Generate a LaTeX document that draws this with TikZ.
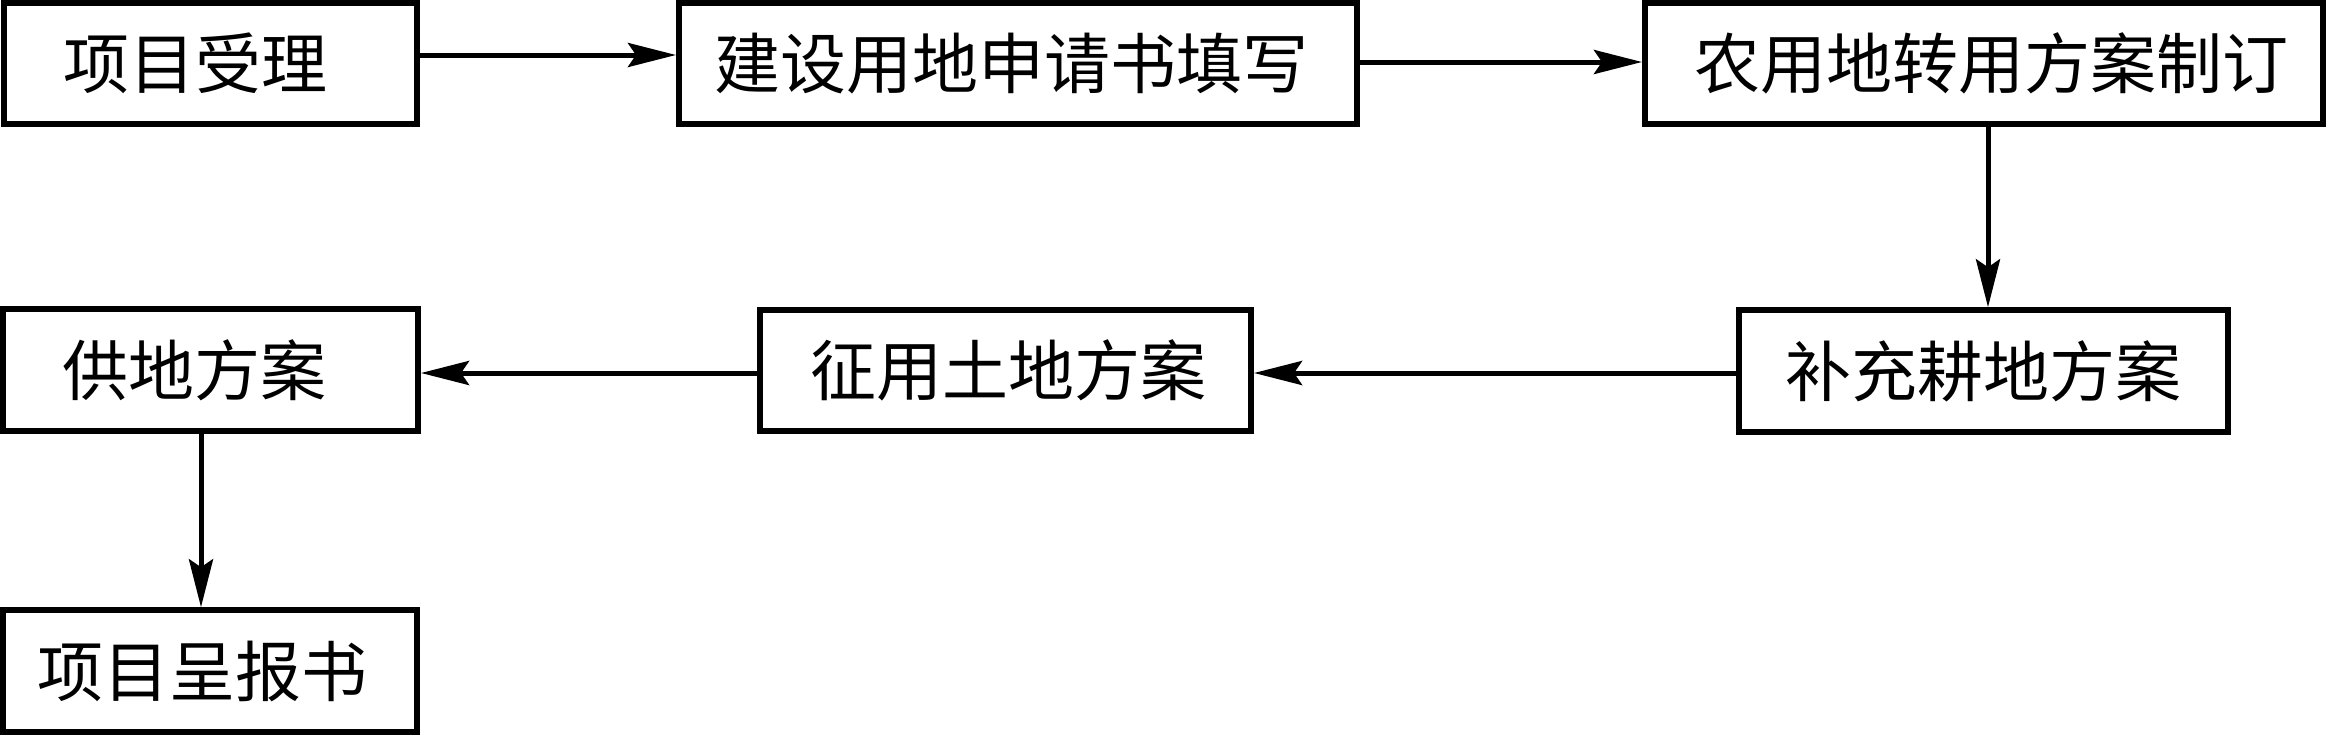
\documentclass[tikz,border=0pt]{standalone}
\usepackage{fontspec}
\newfontfamily\cjk{Noto Sans CJK SC}
\usetikzlibrary{arrows.meta}
\begin{document}
\begin{tikzpicture}[x=1pt,y=-1pt,
  box/.style={draw, line width=6pt, rectangle, inner sep=0pt, minimum height=121.5pt,
    font=\cjk\fontsize{66pt}{70pt}\selectfont},
  arr/.style={line width=5pt, -{Stealth[length=48pt,width=24pt,inset=8pt]}}]
\fill[white] (0,0) rectangle (2327,736);
\useasboundingbox (0,0) rectangle (2327,736);
% rows and columns of connectors
\coordinate (r1a) at (0,55);
\coordinate (r1b) at (0,62);
\coordinate (r2) at (0,373);
\coordinate (c3) at (1988,0);
\coordinate (c6) at (201,0);
% boxes
\node[box, minimum width=413pt] (b1) at (210.5,63.25) {\hspace*{-30pt}项目受理};
\node[box, minimum width=678pt] (b2) at (1018,63.25) {\hspace*{-14pt}建设用地申请书填写};
\node[box, minimum width=678pt] (b3) at (1984,63.5) {\hspace*{14pt}农用地转用方案制订};
\node[box, minimum width=489pt] (b4) at (1983.5,371) {补充耕地方案};
\node[box, minimum width=491pt] (b5) at (1005.5,370.5) {\hspace*{6pt}征用土地方案};
\node[box, minimum width=415pt] (b6) at (210.5,370) {\hspace*{-32pt}供地方案};
\node[box, minimum width=414pt] (b7) at (210,671) {\hspace*{-14pt}项目呈报书};
% connectors
\draw[arr] (b1.east |- r1a) -- (b2.west |- r1a);
\draw[arr] (b2.east |- r1b) -- (b3.west |- r1b);
\draw[arr] (b3.south -| c3) -- (b4.north -| c3);
\draw[arr] (b4.west |- r2) -- (b5.east |- r2);
\draw[arr] (b5.west |- r2) -- (b6.east |- r2);
\draw[arr] (b6.south -| c6) -- (b7.north -| c6);
\end{tikzpicture}
\end{document}
